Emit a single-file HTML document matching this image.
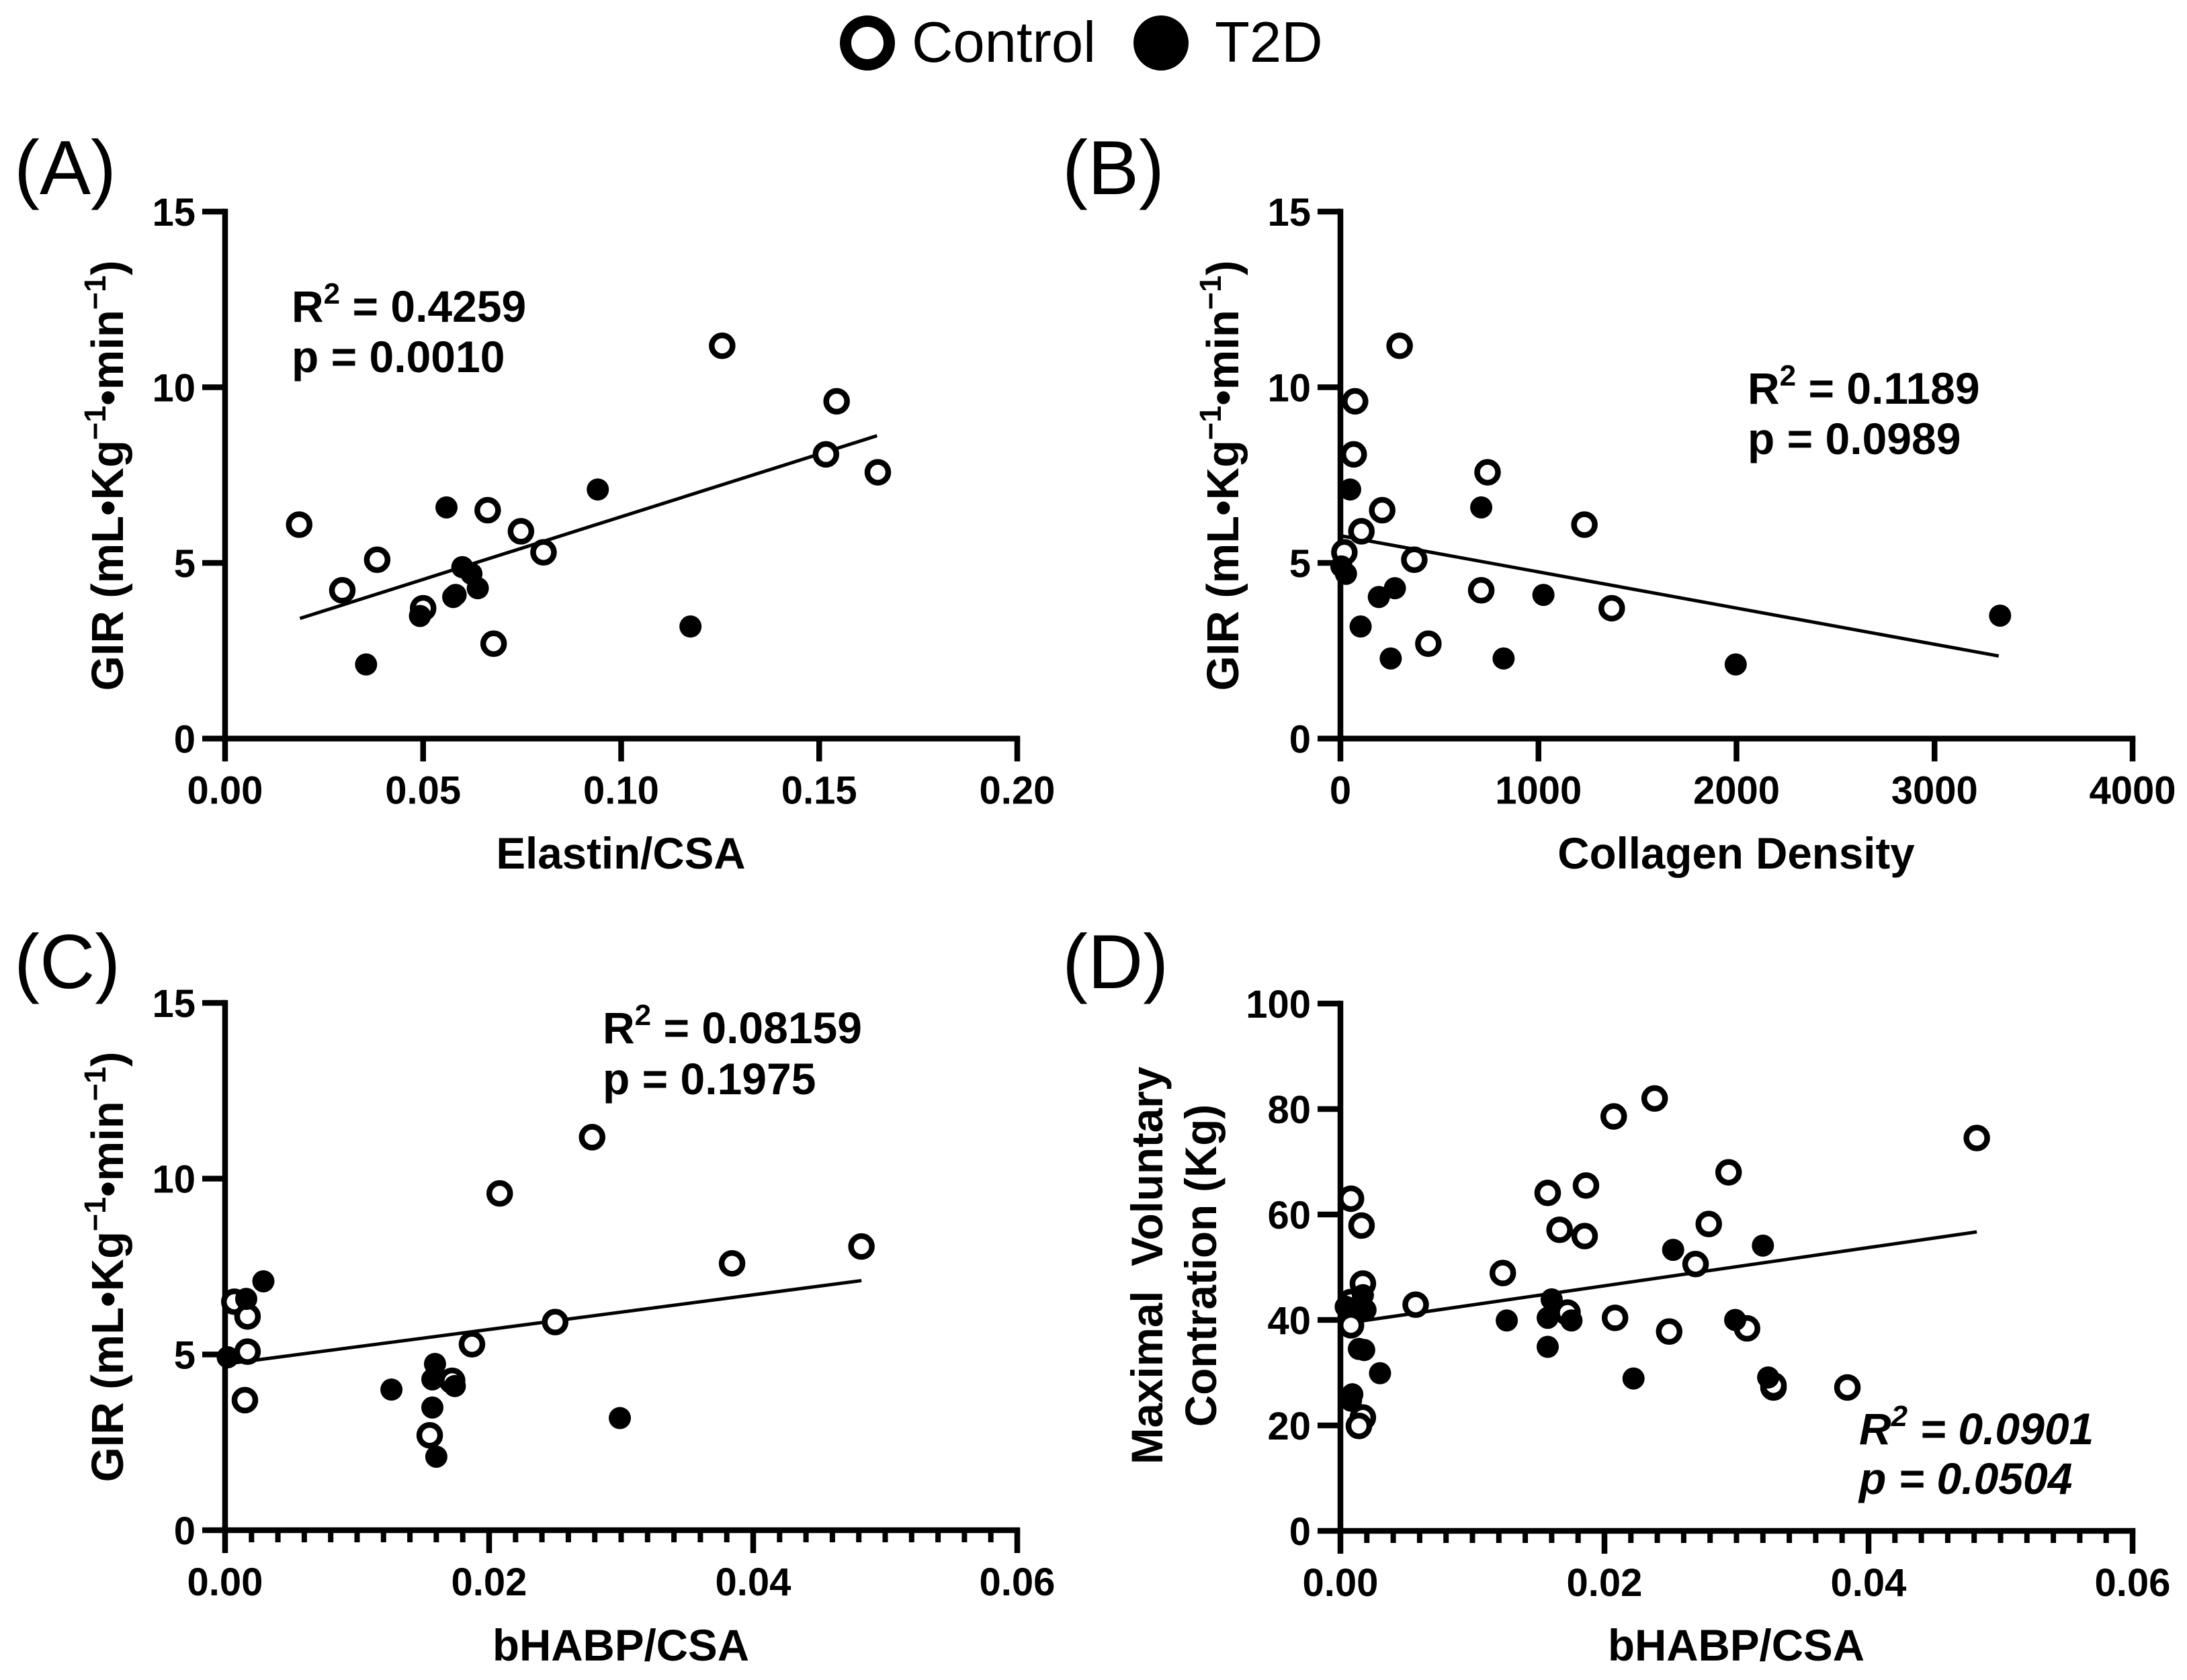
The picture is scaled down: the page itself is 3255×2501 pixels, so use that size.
<!DOCTYPE html>
<html lang="en">
<head>
<meta charset="utf-8">
<title>GIR and muscle strength correlations</title>
<style>
html,body{margin:0;padding:0;background:#fff;}
svg{display:block;}
text{font-family:"Liberation Sans",sans-serif;fill:#000;}
.panel-letter{font-size:114px;font-weight:400;}
.legend-text{font-size:85px;font-weight:400;}
.tick{font-size:58px;font-weight:700;}
.title{font-size:65.5px;font-weight:700;}
.ytitle{font-size:67px;font-weight:700;}
.stat{font-size:66px;font-weight:700;}
.ital{font-style:italic;}
</style>
</head>
<body>
<svg id="figure" xmlns="http://www.w3.org/2000/svg" width="3255" height="2501" viewBox="0 0 3255 2501">
  <rect width="3255" height="2501" fill="#fff"/>

  <g>
    <circle cx="1291" cy="64" r="32.5" fill="#fff" stroke="#000" stroke-width="17"/>
    <text class="legend-text" x="1357" y="92">Control</text>
    <circle cx="1728" cy="64" r="41" fill="#000"/>
    <text class="legend-text" x="1808" y="92">T2D</text>
  </g>

  <text class="panel-letter" x="21" y="289">(A)</text>
  <text class="panel-letter" x="1581" y="289">(B)</text>
  <text class="panel-letter" x="21" y="1471">(C)</text>
  <text class="panel-letter" x="1581" y="1471">(D)</text>

  <text class="title" text-anchor="middle" x="924" y="1293">Elastin/CSA</text>
  <text class="title" text-anchor="middle" x="2584" y="1293">Collagen Density</text>
  <text class="title" text-anchor="middle" x="924" y="2472">bHABP/CSA</text>
  <text class="title" text-anchor="middle" x="2584" y="2472">bHABP/CSA</text>

  <text class="ytitle" text-anchor="middle" transform="translate(183 708) rotate(-90)">GIR (mL•Kg<tspan font-size="45" dy="-26">−1</tspan><tspan dy="26">•min</tspan><tspan font-size="45" dy="-26">−1</tspan><tspan dy="26">)</tspan></text>
  <text class="ytitle" text-anchor="middle" transform="translate(1843 708) rotate(-90)">GIR (mL•Kg<tspan font-size="45" dy="-26">−1</tspan><tspan dy="26">•min</tspan><tspan font-size="45" dy="-26">−1</tspan><tspan dy="26">)</tspan></text>
  <text class="ytitle" text-anchor="middle" transform="translate(183 1886) rotate(-90)">GIR (mL•Kg<tspan font-size="45" dy="-26">−1</tspan><tspan dy="26">•min</tspan><tspan font-size="45" dy="-26">−1</tspan><tspan dy="26">)</tspan></text>
  <text class="title" text-anchor="middle" transform="translate(1730 1884) rotate(-90)">Maximal&#160;&#160;Voluntary</text>
  <text class="title" text-anchor="middle" transform="translate(1810 1884) rotate(-90)">Contration (Kg)</text>

  <g>
    <text class="stat" x="434" y="479">R<tspan font-size="44" dy="-27">2</tspan><tspan dy="27"> = 0.4259</tspan></text>
    <text class="stat" x="434" y="554">p = 0.0010</text>
  </g>
  <g>
    <text class="stat" x="2601" y="601">R<tspan font-size="44" dy="-27">2</tspan><tspan dy="27"> = 0.1189</tspan></text>
    <text class="stat" x="2601" y="676">p = 0.0989</text>
  </g>
  <g>
    <text class="stat" x="897" y="1553">R<tspan font-size="44" dy="-27">2</tspan><tspan dy="27"> = 0.08159</tspan></text>
    <text class="stat" x="897" y="1629">p = 0.1975</text>
  </g>
  <g>
    <text class="stat ital" x="2767" y="2150">R<tspan font-size="44" dy="-27">2</tspan><tspan dy="27"> = 0.0901</tspan></text>
    <text class="stat ital" x="2767" y="2224">p = 0.0504</text>
  </g>

  <g id="charts"></g>
</svg>

<script>
// Panel A
const aXTicks = [0, 0.05, 0.10, 0.15, 0.20];
const aXLabels = ['0.00', '0.05', '0.10', '0.15', '0.20'];
const aYTicks = [0, 5, 10, 15];
const aControlX = [0.0187, 0.0296, 0.0384, 0.0500, 0.0663, 0.0678, 0.0747, 0.0804, 0.1255, 0.1517, 0.1544, 0.1648];
const aControlY = [6.09, 4.22, 5.09, 3.71, 6.5, 2.7, 5.9, 5.3, 11.18, 8.09, 9.6, 7.58];
const aT2dX = [0.0356, 0.0492, 0.0559, 0.0576, 0.0582, 0.0599, 0.0622, 0.0638, 0.0941, 0.1175];
const aT2dY = [2.11, 3.49, 6.58, 4.03, 4.09, 4.88, 4.69, 4.28, 7.09, 3.19];
const aFitX = [0.0189, 0.1646];
const aFitY = [3.42, 8.62];

// Panel B
const bXTicks = [0, 1000, 2000, 3000, 4000];
const bXLabels = ['0', '1000', '2000', '3000', '4000'];
const bYTicks = [0, 5, 10, 15];
const bControlX = [299, 74, 67, 743, 211, 1232, 106, 20, 373, 711, 1370, 444];
const bControlY = [11.18, 9.6, 8.09, 7.58, 6.5, 6.09, 5.9, 5.3, 5.09, 4.22, 3.71, 2.7];
const bT2dX = [49, 711, 5, 28, 275, 194, 1025, 102, 254, 824, 1996, 3331];
const bT2dY = [7.09, 6.58, 4.9, 4.69, 4.28, 4.03, 4.09, 3.19, 2.28, 2.28, 2.11, 3.5];
const bFitX = [4, 3324];
const bFitY = [5.77, 2.35];

// Panel C
const cXTicks = [0, 0.02, 0.04, 0.06];
const cXLabels = ['0.00', '0.02', '0.04', '0.06'];
const cYTicks = [0, 5, 10, 15];
const cControlX = [0.0007, 0.0017, 0.0017, 0.0015, 0.0155, 0.0172, 0.0187, 0.0208, 0.025, 0.0278, 0.0384, 0.0482];
const cControlY = [6.5, 6.08, 5.08, 3.7, 2.7, 4.25, 5.29, 9.58, 5.92, 11.18, 7.59, 8.07];
const cT2dX = [0.0002, 0.0016, 0.0029, 0.0126, 0.0159, 0.0157, 0.0157, 0.016, 0.0174, 0.0299];
const cT2dY = [4.92, 6.58, 7.08, 4.0, 4.73, 4.29, 3.49, 2.09, 4.1, 3.19];
const cFitX = [0.0003, 0.0482];
const cFitY = [4.74, 7.1];

// Panel D
const dXTicks = [0, 0.02, 0.04, 0.06];
const dXLabels = ['0.00', '0.02', '0.04', '0.06'];
const dYTicks = [0, 20, 40, 60, 80, 100];
const dControlX = [0.0008, 0.0016, 0.0017, 0.0008, 0.0008, 0.0057, 0.0123, 0.0166, 0.0185, 0.0172, 0.0208, 0.0017, 0.0014, 0.0157, 0.0186, 0.0207, 0.0238, 0.0294, 0.0279, 0.0269, 0.0249, 0.0308, 0.0328, 0.0328, 0.0384, 0.0482];
const dControlY = [63, 57.9, 46.9, 43.4, 39, 42.9, 48.9, 57.1, 55.9, 41.4, 40.4, 21.5, 19.9, 64.1, 65.5, 78.6, 82, 68, 58.2, 50.6, 37.8, 38.4, 27.2, 27.6, 27.2, 74.5];
const dT2dX = [0.0004, 0.0017, 0.0019, 0.0014, 0.0018, 0.003, 0.0009, 0.0008, 0.0126, 0.016, 0.0157, 0.0175, 0.0157, 0.0222, 0.0252, 0.032, 0.0299, 0.0324];
const dT2dY = [42.5, 44.7, 41.9, 34.5, 34.3, 29.9, 25.9, 24.7, 39.9, 43.9, 40.4, 39.9, 34.9, 28.9, 53.3, 54.1, 40, 29.1];
const dFitX = [0.0002, 0.0482];
const dFitY = [39.3, 56.7];

const SVG_NS = 'http://www.w3.org/2000/svg';
const root = document.getElementById('charts');

function make(tag, attrs, parent) {
  const node = document.createElementNS(SVG_NS, tag);
  for (const key in attrs) node.setAttribute(key, attrs[key]);
  parent.appendChild(node);
  return node;
}

function linearScale(d0, d1, r0, r1) {
  return function (v) { return r0 + (v - d0) / (d1 - d0) * (r1 - r0); };
}

function drawPanel(id, box, cfg) {
  const group = make('g', {}, root);
  
  

  const xMin = cfg.xTicks[0];
  const xMax = cfg.xTicks[cfg.xTicks.length - 1];
  const yMin = cfg.yTicks[0];
  const yMax = cfg.yTicks[cfg.yTicks.length - 1];
  const sx = linearScale(xMin, xMax, box.left, box.right);
  const sy = linearScale(yMin, yMax, box.bottom, box.top);

  // Regression line
  const fit = make('line', {
    x1: sx(cfg.fitX[0]), y1: sy(cfg.fitY[0]),
    x2: sx(cfg.fitX[1]), y2: sy(cfg.fitY[1]),
    stroke: '#000', 'stroke-width': 5
  }, group);
  
  

  // Axes
  const yAxis = make('line', {
    x1: box.left, y1: box.top - 4.25, x2: box.left, y2: box.bottom + 4.25,
    stroke: '#000', 'stroke-width': 8.5
  }, group);
  
  

  const xAxis = make('line', {
    x1: box.left - 4.25, y1: box.bottom, x2: box.right + 4.25, y2: box.bottom,
    stroke: '#000', 'stroke-width': 8.5
  }, group);
  
  

  // Y ticks
  cfg.yTicks.forEach(function (t) {
    const mark = make('line', {
      x1: box.left - 34, y1: sy(t), x2: box.left, y2: sy(t),
      stroke: '#000', 'stroke-width': 8.5
    }, group);
    
    

    const label = make('text', {
      class: 'tick', x: box.left - 44, y: sy(t) + 21, 'text-anchor': 'end'
    }, group);
    
    
    label.textContent = String(t);
  });

  // X ticks
  cfg.xTicks.forEach(function (t, i) {
    const mark = make('line', {
      x1: sx(t), y1: box.bottom, x2: sx(t), y2: box.bottom + 34,
      stroke: '#000', 'stroke-width': 8.5
    }, group);
    
    

    const label = make('text', {
      class: 'tick', x: sx(t), y: box.bottom + 97, 'text-anchor': 'middle'
    }, group);
    
    
    label.textContent = cfg.xLabels[i];
  });

  // Minor x ticks
  if (cfg.minorDivisions) {
    for (let i = 0; i < cfg.xTicks.length - 1; i++) {
      const step = (cfg.xTicks[i + 1] - cfg.xTicks[i]) / cfg.minorDivisions;
      for (let j = 1; j < cfg.minorDivisions; j++) {
        const v = cfg.xTicks[i] + step * j;
        const minor = make('line', {
          x1: sx(v), y1: box.bottom, x2: sx(v), y2: box.bottom + 18,
          stroke: '#000', 'stroke-width': 8
        }, group);
        
        
      }
    }
  }

  // Control points (open, white-filled)
  cfg.controlX.forEach(function (v, i) {
    const pt = make('circle', {
      cx: sx(v), cy: sy(cfg.controlY[i]), r: 15.5,
      fill: '#fff', stroke: '#000', 'stroke-width': 8.5
    }, group);
    
    
  });

  // T2D points (solid)
  cfg.t2dX.forEach(function (v, i) {
    const pt = make('circle', {
      cx: sx(v), cy: sy(cfg.t2dY[i]), r: 16.5, fill: '#000'
    }, group);
    
    
  });
}

drawPanel('a', { left: 335, right: 1514, top: 315, bottom: 1099.5 }, {
  xTicks: aXTicks, xLabels: aXLabels, yTicks: aYTicks,
  controlX: aControlX, controlY: aControlY, t2dX: aT2dX, t2dY: aT2dY,
  fitX: aFitX, fitY: aFitY, minorDivisions: 0
});
drawPanel('b', { left: 1995, right: 3174, top: 315, bottom: 1099.5 }, {
  xTicks: bXTicks, xLabels: bXLabels, yTicks: bYTicks,
  controlX: bControlX, controlY: bControlY, t2dX: bT2dX, t2dY: bT2dY,
  fitX: bFitX, fitY: bFitY, minorDivisions: 0
});
drawPanel('c', { left: 335, right: 1514, top: 1493, bottom: 2278 }, {
  xTicks: cXTicks, xLabels: cXLabels, yTicks: cYTicks,
  controlX: cControlX, controlY: cControlY, t2dX: cT2dX, t2dY: cT2dY,
  fitX: cFitX, fitY: cFitY, minorDivisions: 10
});
drawPanel('d', { left: 1995, right: 3174, top: 1494, bottom: 2279 }, {
  xTicks: dXTicks, xLabels: dXLabels, yTicks: dYTicks,
  controlX: dControlX, controlY: dControlY, t2dX: dT2dX, t2dY: dT2dY,
  fitX: dFitX, fitY: dFitY, minorDivisions: 10
});
</script>
</body>
</html>
